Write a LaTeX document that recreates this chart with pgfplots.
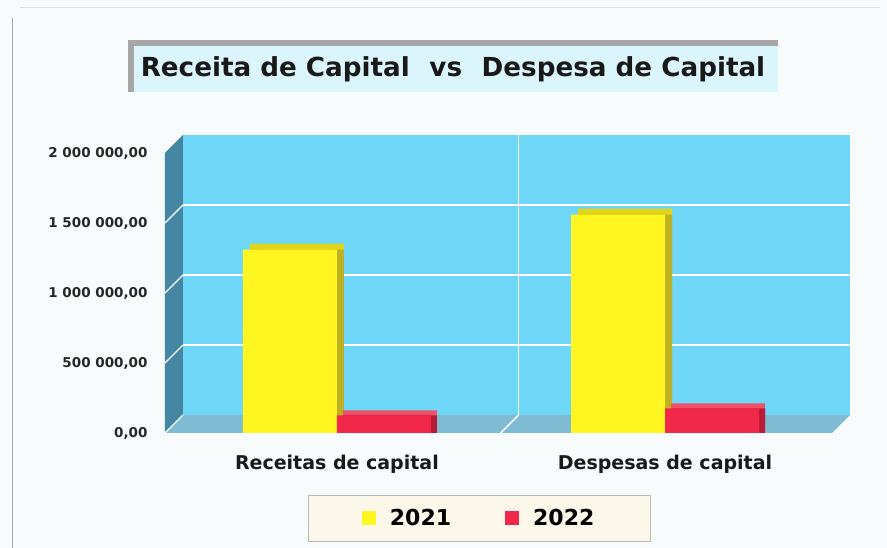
\documentclass[border=0pt]{standalone}
\usepackage{pgfplots}
\pgfplotsset{compat=1.18}
\usepackage{fontspec}
\setmainfont{DejaVu Sans}
\definecolor{bgc}{HTML}{F7FBFC}
\definecolor{wall}{HTML}{6ED7F7}
\definecolor{sidewall}{HTML}{4586A2}
\definecolor{floorc}{HTML}{80BBD4}
\definecolor{ylw}{HTML}{FFF520}
\definecolor{ylwt}{HTML}{E2D41C}
\definecolor{ylwd}{HTML}{BDB022}
\definecolor{rd}{HTML}{F2284A}
\definecolor{rdt}{HTML}{EE5068}
\definecolor{rdd}{HTML}{B81C38}
\definecolor{titlebg}{HTML}{DAF5FB}
\definecolor{legbg}{HTML}{FBF8EA}
\begin{document}
\begin{tikzpicture}
\fill[bgc] (0,0) rectangle (887pt,548pt);
\path[use as bounding box] (0,0) rectangle (887pt,548pt);
\draw[gray!70, line width=1pt] (12pt,0) -- (12pt,530pt);
\draw[gray!25, line width=1pt] (20pt,540pt) -- (880pt,540pt);
% title
\fill[gray!70] (128pt,456pt) rectangle (778pt,508pt);
\fill[titlebg] (134pt,456pt) rectangle (778pt,502pt);
\node[font=\bfseries\fontsize{26.2}{31}\selectfont, text=black!90] at (453pt,479pt) {Receita de Capital\hspace{0.4em} vs\hspace{0.4em} Despesa de Capital};
\begin{axis}[
  at={(165pt,115pt)}, anchor=south west,
  scale only axis, width=667pt, height=280pt,
  clip=false,
  xmin=-0.524, xmax=1.509, ymin=0, ymax=2000000,
  scaled y ticks=false,
  axis line style={draw=none},
  tick style={draw=none},
  xtick={0,1},
  xticklabels={Receitas de capital, Despesas de capital},
  xticklabel style={font=\bfseries\fontsize{19}{22}\selectfont, text=black!90, yshift=-14pt},
  ytick={0,500000,1000000,1500000,2000000},
  yticklabels={{0,00},{500 000,00},{1 000 000,00},{1 500 000,00},{2 000 000,00}},
  yticklabel style={font=\bfseries\fontsize{13.5}{16}\selectfont, text=black!85, xshift=-14pt},
  ybar, bar width=94pt,
  legend style={at={(rel axis cs:0.471,-0.3036)}, anchor=center, legend columns=2,
    fill=legbg, draw=gray!55, font=\bfseries\fontsize{22}{26}\selectfont,
    inner xsep=54pt, inner ysep=12pt,
    /tikz/every odd column/.append style={column sep=12pt},
    /tikz/every even column/.append style={column sep=52pt}},
  legend image code/.code={\fill[#1] (0pt,-7pt) rectangle (14pt,7pt);},
]
% back wall
\fill[wall] ([shift={(18pt,18pt)}]rel axis cs:0,0) rectangle ([shift={(18pt,18pt)}]rel axis cs:1,1);
\draw[white, line width=1.3pt] ([shift={(18pt,18pt)}]rel axis cs:0,0.25) -- ([shift={(18pt,18pt)}]rel axis cs:1,0.25);
\draw[white, line width=1.3pt] ([shift={(18pt,18pt)}]rel axis cs:0,0.5) -- ([shift={(18pt,18pt)}]rel axis cs:1,0.5);
\draw[white, line width=1.3pt] ([shift={(18pt,18pt)}]rel axis cs:0,0.75) -- ([shift={(18pt,18pt)}]rel axis cs:1,0.75);
\draw[white, line width=1.3pt] ([shift={(18pt,18pt)}]rel axis cs:0.5032,0) -- ([shift={(18pt,18pt)}]rel axis cs:0.5032,1);
% side wall
\fill[sidewall] (rel axis cs:0,0) -- (rel axis cs:0,1) -- ([shift={(18pt,18pt)}]rel axis cs:0,1) -- ([shift={(18pt,18pt)}]rel axis cs:0,0) -- cycle;
\draw[white, line width=1.3pt] (rel axis cs:0,0.25) -- ([shift={(18pt,18pt)}]rel axis cs:0,0.25);
\draw[white, line width=1.3pt] (rel axis cs:0,0.5) -- ([shift={(18pt,18pt)}]rel axis cs:0,0.5);
\draw[white, line width=1.3pt] (rel axis cs:0,0.75) -- ([shift={(18pt,18pt)}]rel axis cs:0,0.75);
% floor
\fill[floorc] (rel axis cs:0,0) -- (rel axis cs:1,0) -- ([shift={(18pt,18pt)}]rel axis cs:1,0) -- ([shift={(18pt,18pt)}]rel axis cs:0,0) -- cycle;
\draw[white, line width=1.3pt] (rel axis cs:0,0) -- ([shift={(18pt,18pt)}]rel axis cs:0,0);
\draw[white, line width=1.3pt] (rel axis cs:0.5032,0) -- ([shift={(18pt,18pt)}]rel axis cs:0.5032,0);
% bars: top faces, side faces, front faces
\addplot[fill=ylwt, draw=none, bar shift=-47pt, xshift=7pt, yshift=6pt, forget plot] coordinates {(0,1310000) (1,1560000)};
\addplot[fill=ylwd, draw=none, bar shift=-47pt, xshift=7pt, forget plot] coordinates {(0,1310000) (1,1560000)};
\addplot[fill=ylw, draw=none, bar shift=-47pt] coordinates {(0,1310000) (1,1560000)};
\addplot[fill=rdt, draw=none, bar shift=47pt, xshift=6pt, yshift=5pt, forget plot] coordinates {(0,125000) (1,175000)};
\addplot[fill=rdd, draw=none, bar shift=47pt, xshift=6pt, forget plot] coordinates {(0,125000) (1,175000)};
\addplot[fill=rd, draw=none, bar shift=47pt] coordinates {(0,125000) (1,175000)};
\legend{2021, 2022}
\end{axis}
\end{tikzpicture}
\end{document}
